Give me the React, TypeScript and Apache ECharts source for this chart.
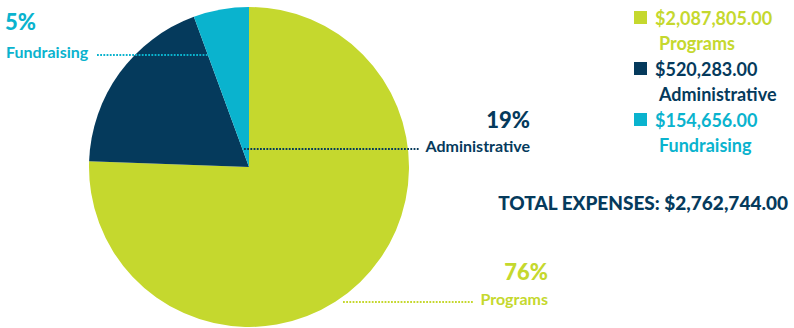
import React, { useEffect, useRef } from "react";
import * as echarts from "echarts";

const categories = ["Programs", "Administrative", "Fundraising"];
const amounts = [2087805, 520283, 154656];
const percentLabels = ["76%", "19%", "5%"];
const colors = ["#C5D82E", "#053A5C", "#0AB3CE"];

const fmt = (v: number) =>
  "$" + v.toLocaleString("en-US", { minimumFractionDigits: 2, maximumFractionDigits: 2 });

export default function App() {
  const ref = useRef<HTMLDivElement>(null);
  useEffect(() => {
    document.body.style.margin = "0";
    const chart = echarts.init(ref.current!, null, { renderer: "svg" });
    const total = amounts.reduce((a, b) => a + b, 0);
    const font = "Lato, 'Open Sans', sans-serif";
    const dots = (x1: number, y1: number, x2: number, y2: number, color: string) => ({
      type: "line",
      z: 100,
      shape: { x1, y1, x2, y2 },
      style: { stroke: color, lineWidth: 2, lineDash: [1.8, 1.4] },
    });
    const txt = (
      x: number,
      y: number,
      text: string,
      color: string,
      size: number,
      align: string = "left",
      weight: any = "bold"
    ) => ({
      type: "text",
      z: 100,
      x,
      y,
      style: {
        text,
        fill: color,
        font: `${weight} ${size}px ${font}`,
        textAlign: align,
        textVerticalAlign: "middle",
      },
    });
    const legend: any[] = [];
    categories.forEach((c, i) => {
      const top = 11 + i * 51;
      legend.push({
        type: "rect",
        z: 100,
        shape: { x: 634, y: top, width: 13, height: 13 },
        style: { fill: colors[i] },
      });
      legend.push(txt(655, top + 7, fmt(amounts[i]), colors[i], 18));
      legend.push(txt(659, top + 32, c, colors[i], 18));
    });
    chart.setOption({
      animation: false,
      series: [
        {
          type: "pie",
          center: [249, 167],
          radius: [0, 160],
          startAngle: 90,
          clockwise: true,
          label: { show: false },
          labelLine: { show: false },
          emphasis: { disabled: true },
          itemStyle: { borderWidth: 0 },
          data: categories.map((c, i) => ({
            name: c,
            value: amounts[i],
            itemStyle: { color: colors[i] },
          })),
        },
      ],
      graphic: [
        txt(5, 21, percentLabels[2], colors[2], 22, "left", 900),
        txt(6, 51, categories[2], colors[2], 16),
        dots(97, 55, 208, 55, colors[2]),
        txt(530, 119, percentLabels[1], colors[1], 22, "right", 900),
        txt(530, 145, categories[1], colors[1], 16, "right"),
        dots(244, 149, 420, 149, colors[1]),
        txt(548, 271, percentLabels[0], colors[0], 22, "right", 900),
        txt(548, 298, categories[0], colors[0], 16, "right"),
        dots(343, 302, 473, 302, colors[0]),
        ...legend,
        txt(788, 202, "TOTAL EXPENSES: " + fmt(total), colors[1], 19, "right", 900),
      ],
    });
    return () => chart.dispose();
  }, []);
  return <div ref={ref} style={{ width: 794, height: 328 }} />;
}
